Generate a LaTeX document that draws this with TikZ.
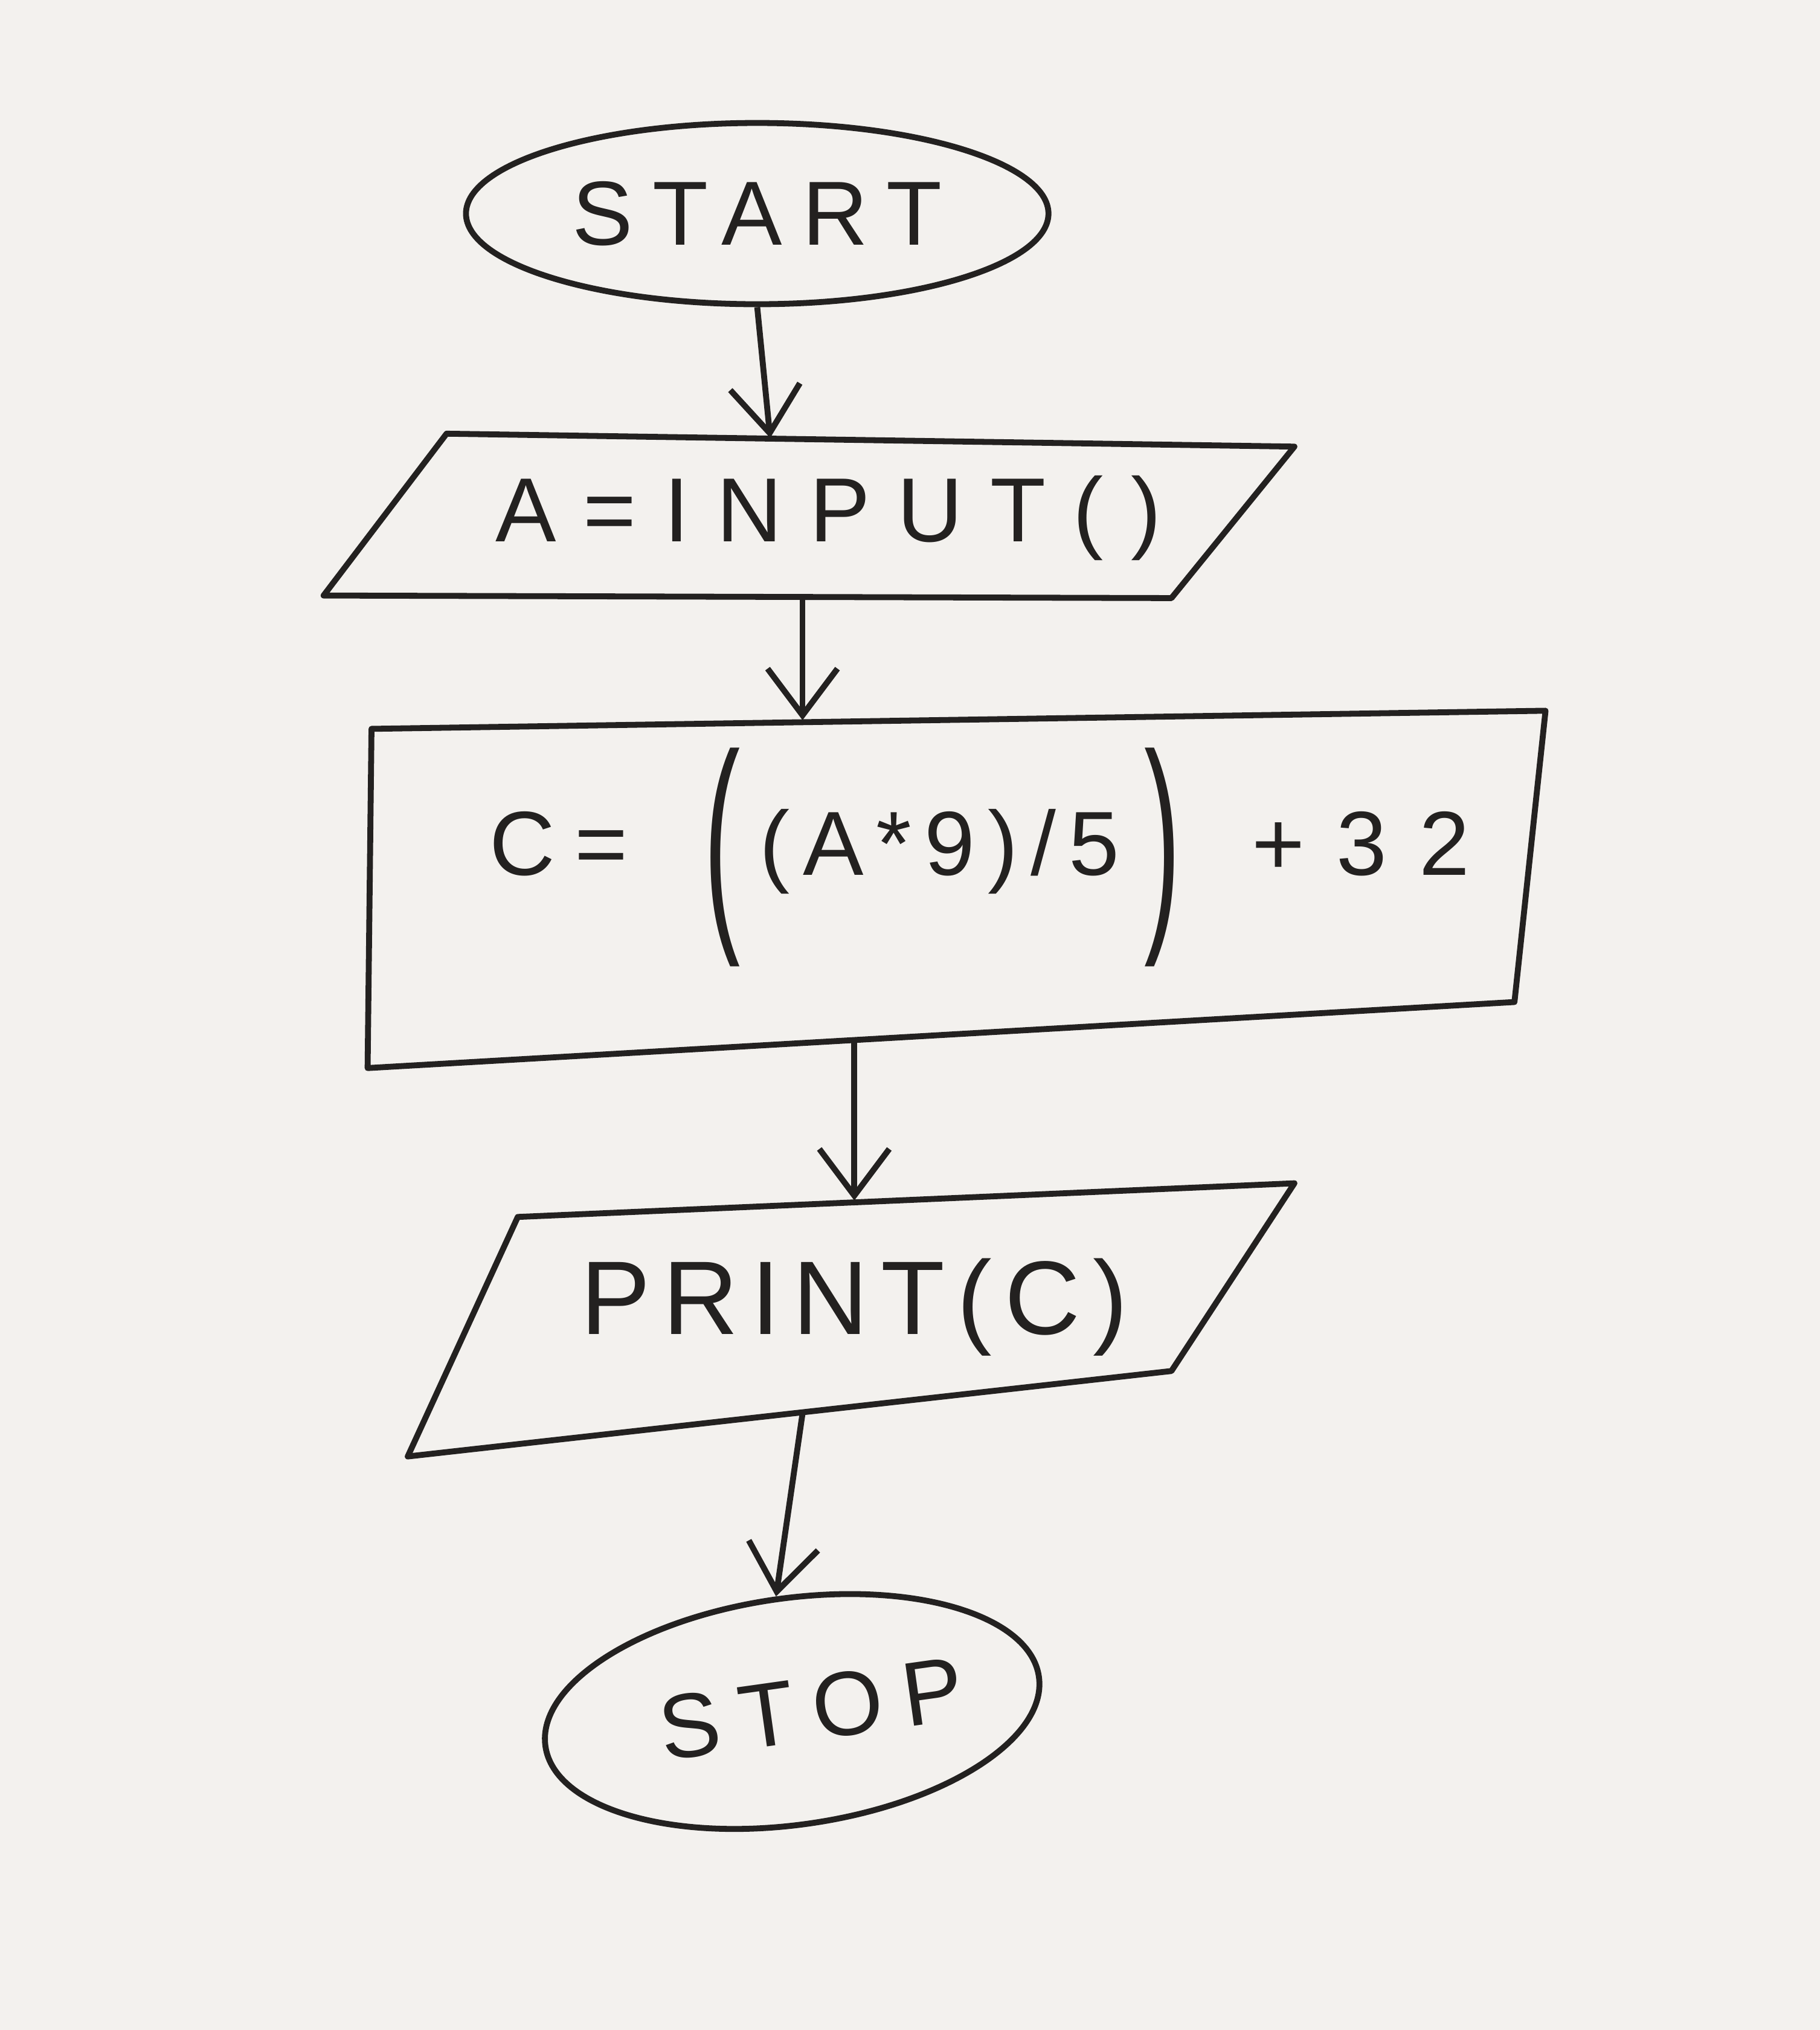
\documentclass[tikz,border=0pt]{standalone}
\usepackage{fontspec}
\usepackage{graphicx}
\newfontfamily\hand[LetterSpace=22]{Liberation Sans}
\usetikzlibrary{shapes.geometric,arrows.meta}
\definecolor{paper}{RGB}{243,241,238}
\definecolor{ink}{RGB}{35,33,32}
\newcommand{\bigparen}[1]{\raisebox{-0.33cm}{\scalebox{1.2}[2.58]{#1}}}
\tikzset{
  handtext/.style={text=ink, font=\hand\fontsize{20}{24}\selectfont},
  terminal/.style={ellipse, draw=ink, line width=1.3pt, handtext, inner sep=0pt},
  textbox/.style={rectangle, draw=none, handtext, inner sep=0pt},
  outline/.style={draw=ink, line width=1.3pt, line join=round},
  flow/.style={draw=ink, line width=1.3pt, -{Straight Barb[length=3.6mm,width=5.4mm,line width=1.3pt]}}
}
\begin{document}
\begin{tikzpicture}
\path[fill=paper] (0,0) rectangle (14.06,15.68);
\useasboundingbox (0,0) rectangle (14.06,15.68);

% START
\node[terminal, minimum width=4.5cm, minimum height=1.4cm] (start) at (5.85,14.03) {START};

% A=INPUT()
\node[textbox, minimum width=5.6cm, minimum height=1.22cm] (input) at (5.95,11.68)
  {\hspace*{0.9cm}\addfontfeature{LetterSpace=30}A=INPUT()};
\draw[outline] (3.45,12.33) -- (10.00,12.23) -- (9.05,11.06) -- (2.50,11.08) -- cycle;

% C = ((A*9)/5)+32
\node[textbox, text width=8.8cm, align=left, minimum height=2.46cm, text height=0.96cm, text depth=1.04cm] (calc) at (6.60,8.88)
  {\hspace*{1.58cm}\makebox[1.66cm][l]{C=}%
   \makebox[0.43cm][l]{\bigparen{(}}%
   \makebox[2.97cm][l]{\addfontfeature{LetterSpace=14}(A*9)/5}%
   \makebox[0.83cm][l]{\bigparen{)}}%
   {\addfontfeature{LetterSpace=35}+32}};
\draw[outline] (2.87,10.05) -- (11.94,10.19) -- (11.70,7.94) -- (2.84,7.43) -- cycle;

% PRINT(C)
\node[textbox, minimum width=5.6cm, minimum height=1.63cm] (print) at (6.60,5.585)
  {\addfontfeature{LetterSpace=12}\fontsize{23}{27}\selectfont PRINT(C)};
\draw[outline] (4.00,6.28) -- (10.00,6.54) -- (9.05,5.09) -- (3.15,4.43) -- cycle;

% STOP
\node[terminal, minimum width=3.85cm, minimum height=1.75cm, rotate=8] (stop) at (6.12,2.46) {\hspace*{0.3cm}STOP};

% connectors
\draw[flow] (start.south) -- (input.north);
\draw[flow] ([xshift=2.5mm]input.south) -- ([xshift=2.5mm]input.south |- calc.north);
\draw[flow] (calc.south) -- (print.north);
\draw[flow] ([xshift=-4mm]print.south) -- (stop.north);
\end{tikzpicture}
\end{document}
